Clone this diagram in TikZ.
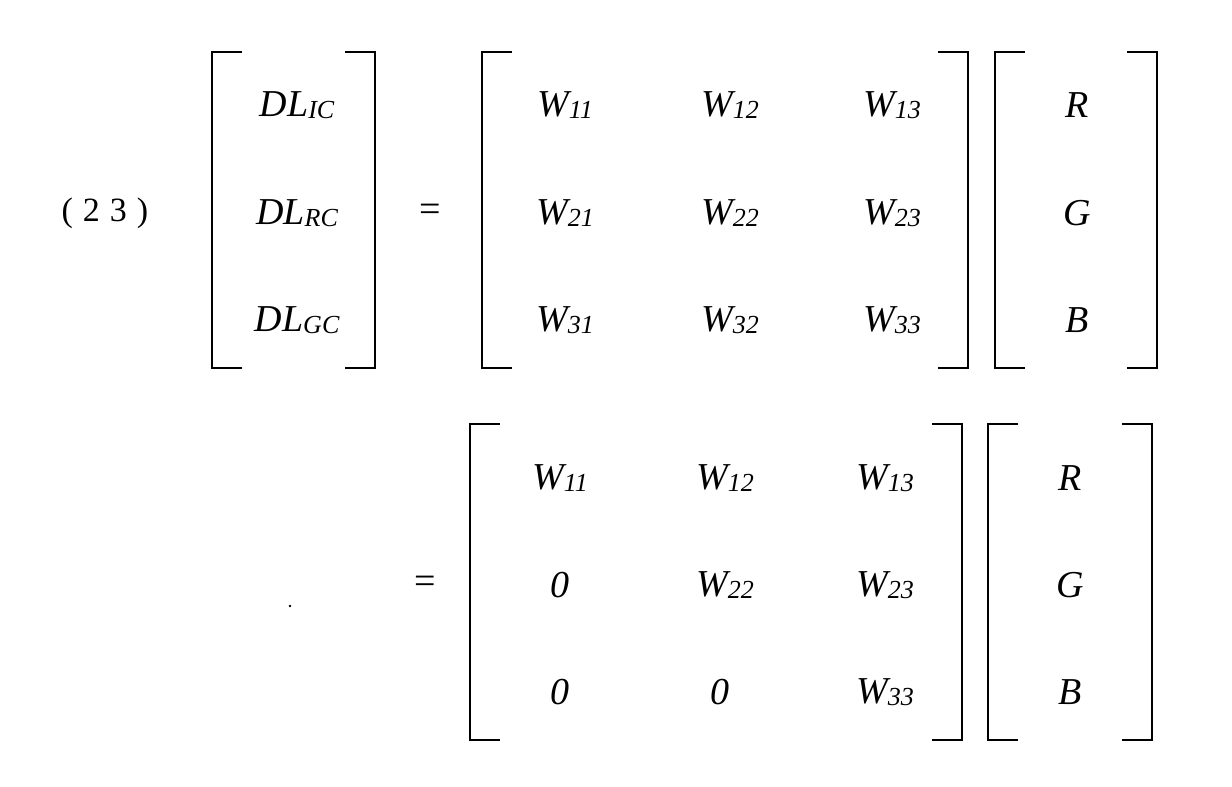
\documentclass[tikz,border=0pt]{standalone}
\usepackage{fontspec}
\setmainfont{Liberation Serif}
\newcommand{\mysub}[1]{\raisebox{-2pt}{\fontsize{26}{30}\selectfont #1}}
\begin{document}
\begin{tikzpicture}[x=1pt,y=-1pt,
  e/.style={font=\fontsize{38}{44}\selectfont\itshape, inner sep=0pt, anchor=center},
  br/.style={line width=2.8pt}]
\useasboundingbox (0,0) rectangle (1232,787);
\newcommand{\lb}[3]{\draw[br] (#1+30,#2) -- (#1,#2) -- (#1,#3) -- (#1+30,#3);}
\newcommand{\rb}[3]{\draw[br] (#1-30,#2) -- (#1,#2) -- (#1,#3) -- (#1-30,#3);}
\node[e,font=\fontsize{34}{44}\selectfont] (lab) at (105,213) {(\hspace{10pt}2\hspace{10pt}3\hspace{10pt})};
\lb{212}{52}{368}\rb{375}{52}{368}
\node[e] (d1) at (297,105) {DL\mysub{IC}};
\node[e] (d2) at (297,213) {DL\mysub{RC}};
\node[e] (d3) at (297,320) {DL\mysub{GC}};
\node[e,font=\fontsize{38}{44}\selectfont] (eq1) at (430,213) {=};
\lb{482}{52}{368}\rb{968}{52}{368}
\foreach \r/\y in {1/105,2/213,3/320}{
  \foreach \c/\x in {1/565,2/730,3/892}{
    \node[e] (a\r\c) at (\x,\y) {W\mysub{\r\c}};}}
\lb{995}{52}{368}\rb{1157}{52}{368}
\node[e] (v1) at (1077,105) {R};
\node[e] (v2) at (1077,213) {G};
\node[e] (v3) at (1077,320) {B};
\node[e,font=\fontsize{38}{44}\selectfont] (eq2) at (425,585) {=};
\lb{470}{424}{740}\rb{962}{424}{740}
\node[e] (b11) at (560,478) {W\mysub{11}};
\node[e] (b12) at (725,478) {W\mysub{12}};
\node[e] (b13) at (885,478) {W\mysub{13}};
\node[e] (b21) at (560,585) {0};
\node[e] (b22) at (725,585) {W\mysub{22}};
\node[e] (b23) at (885,585) {W\mysub{23}};
\node[e] (b31) at (560,692) {0};
\node[e] (b32) at (720,692) {0};
\node[e] (b33) at (885,692) {W\mysub{33}};
\lb{988}{424}{740}\rb{1152}{424}{740}
\node[e] (u1) at (1070,478) {R};
\node[e] (u2) at (1070,585) {G};
\node[e] (u3) at (1070,692) {B};
\fill (290,606) circle (1.3);
\end{tikzpicture}
\end{document}
